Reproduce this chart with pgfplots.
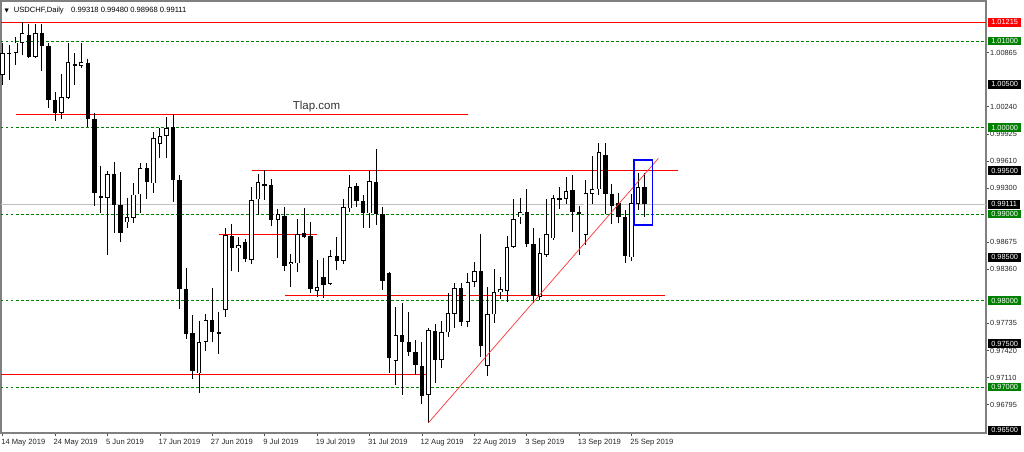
\documentclass[border=0pt]{standalone}
\usepackage{fontspec}
\setmainfont{Liberation Sans}
\newfontfamily\dejavu{DejaVu Sans}
\usepackage{pgfplots}
\usepackage{pgfplotstable}
\pgfplotsset{compat=1.18}

\definecolor{mtgreen}{RGB}{0,128,0}
\definecolor{mtred}{RGB}{255,0,0}
\definecolor{mtblue}{RGB}{0,0,255}
\definecolor{bidgray}{RGB}{192,192,192}

% daily bars, i = bar index from 14 May 2019
\pgfplotstableread{
i O H L C
0 1.00607 1.00973 1.00491 1.00857
1 1.00857 1.00954 1.00549 1.00865
2 1.00857 1.01050 1.00723 1.00981
3 1.00981 1.01216 1.00838 1.01096
4 1.01069 1.01197 1.00800 1.00819
5 1.00819 1.01197 1.00800 1.01096
6 1.01089 1.01197 1.00657 1.00946
7 1.00946 1.00981 1.00221 1.00318
8 1.00318 1.00414 1.00079 1.00164
9 1.00164 1.00618 1.00098 1.00356
10 1.00345 1.00973 1.00329 1.00753
11 1.00730 1.00857 1.00491 1.00711
12 1.00715 1.00973 1.00684 1.00761
13 1.00742 1.00788 1.00010 1.00098
14 1.00098 1.00171 0.99092 0.99239
15 0.99208 0.99559 0.99015 0.99181
16 0.99181 0.99501 0.98526 0.99462
17 0.99462 0.99605 0.98784 0.99104
18 0.99104 0.99489 0.98680 0.98776
19 0.98903 0.99181 0.98834 0.98961
20 0.98957 0.99362 0.98900 0.99227
21 0.99227 0.99586 0.99007 0.99535
22 0.99528 0.99593 0.99169 0.99374
23 0.99354 0.99944 0.99239 0.99875
24 0.99809 0.99990 0.99643 0.99902
25 0.99902 1.00117 0.99643 0.99998
26 1.00010 1.00152 0.99142 0.99393
27 0.99393 0.99451 0.97898 0.98133
28 0.98133 0.98372 0.97551 0.97612
29 0.97620 0.97832 0.97088 0.97188
30 0.97158 0.97767 0.96926 0.97524
31 0.97524 0.97844 0.97420 0.97774
32 0.97774 0.98140 0.97524 0.97639
33 0.97632 0.97871 0.97377 0.97628
34 0.97890 0.98834 0.97805 0.98757
35 0.98745 0.98884 0.98341 0.98611
36 0.98603 0.98730 0.98333 0.98641
37 0.98680 0.98707 0.98449 0.98476
38 0.98468 0.99308 0.98418 0.99162
39 0.99169 0.99462 0.98988 0.99374
40 0.99347 0.99509 0.99162 0.99331
41 0.99335 0.99404 0.98861 0.98930
42 0.98930 0.99058 0.98487 0.98996
43 0.98981 0.99077 0.98345 0.98399
44 0.98418 0.98533 0.98160 0.98441
45 0.98429 0.98938 0.98333 0.98769
46 0.98776 0.99073 0.98718 0.98738
47 0.98745 0.98911 0.98083 0.98129
48 0.98113 0.98468 0.98044 0.98152
49 0.98268 0.98487 0.98025 0.98179
50 0.98187 0.98584 0.98179 0.98514
51 0.98514 0.98738 0.98352 0.98460
52 0.98460 0.99173 0.98422 0.99077
53 0.99065 0.99451 0.99027 0.99316
54 0.99324 0.99354 0.99085 0.99150
55 0.99150 0.99219 0.98834 0.99007
56 0.99007 0.99501 0.98834 0.99381
57 0.99374 0.99747 0.98873 0.98996
58 0.98996 0.99077 0.98121 0.98229
59 0.98321 0.98333 0.97158 0.97331
60 0.97300 0.97928 0.97023 0.97601
61 0.97601 0.97967 0.96907 0.97516
62 0.97516 0.97871 0.97358 0.97408
63 0.97408 0.97543 0.97138 0.97254
64 0.97242 0.97524 0.96803 0.96899
65 0.96907 0.97678 0.96587 0.97659
66 0.97651 0.97724 0.97050 0.97312
67 0.97312 0.97763 0.97215 0.97632
68 0.97632 0.98090 0.97574 0.97851
69 0.97844 0.98206 0.97686 0.98140
70 0.98140 0.98198 0.97705 0.97755
71 0.97755 0.98314 0.97697 0.98217
72 0.98210 0.98441 0.98160 0.98345
73 0.98345 0.98765 0.97350 0.97474
74 0.97246 0.98152 0.97127 0.97840
75 0.97840 0.98360 0.97743 0.98094
76 0.98094 0.98275 0.98013 0.98129
77 0.98113 0.98745 0.97986 0.98622
78 0.98622 0.99173 0.98603 0.98942
79 0.98961 0.99189 0.98884 0.99027
80 0.99027 0.99285 0.98622 0.98653
81 0.98649 0.98842 0.97975 0.98052
82 0.98044 0.98726 0.98005 0.98553
83 0.98526 0.99173 0.98506 0.98765
84 0.98718 0.99219 0.98699 0.99189
85 0.99189 0.99308 0.99054 0.99169
86 0.99173 0.99424 0.99112 0.99266
87 0.99277 0.99451 0.98788 0.99027
88 0.99027 0.99092 0.98526 0.99007
89 0.98757 0.99393 0.98641 0.99246
90 0.99231 0.99670 0.99115 0.99289
91 0.99285 0.99825 0.99219 0.99713
92 0.99682 0.99825 0.98996 0.99227
93 0.99227 0.99347 0.98884 0.99092
94 0.99131 0.99239 0.98892 0.98961
95 0.98961 0.99046 0.98429 0.98514
96 0.98499 0.99227 0.98460 0.99123
97 0.99115 0.99478 0.99046 0.99316
98 0.99318 0.99480 0.98968 0.99111
}\candles

\tikzset{pricelab/.style={anchor=west, xshift=1.7pt, text=white, inner xsep=3.4pt,
  inner ysep=0pt, minimum height=8.8pt, font=\fontsize{7.4}{8}\selectfont}}

\begin{document}
\begin{tikzpicture}[x=1pt,y=1pt]
\fill[white] (0,0) rectangle (1024,451);
\path[use as bounding box] (0,0) rectangle (1024,451);
\begin{axis}[
  at={(1pt,18pt)}, anchor=south west,
  scale only axis, width=985pt, height=432pt,
  xmin=-0.25, xmax=150.1, ymin=0.96468, ymax=1.01462,
  clip=false,
  axis line style={draw=black!50, line width=1.2pt},
  tick align=outside, major tick length=3pt,
  tick style={draw=black!70, line width=0.6pt},
  xtick pos=bottom, ytick pos=right, yticklabel pos=right,
  xtick={0,8,...,96},
  xticklabels={14 May 2019, 24 May 2019, 5 Jun 2019, 17 Jun 2019, 27 Jun 2019, 9 Jul 2019, 19 Jul 2019, 31 Jul 2019, 12 Aug 2019, 22 Aug 2019, 3 Sep 2019, 13 Sep 2019, 25 Sep 2019},
  xticklabel style={font=\fontsize{7.6}{8}\selectfont, text=black!85, anchor=north west, inner sep=0pt, xshift=-1.5pt, yshift=-2.5pt},
  ytick={1.00865,1.00240,0.99925,0.99610,0.99300,0.98675,0.98360,0.97735,0.97420,0.97110,0.96795},
  yticklabels={1.00865,1.00240,0.99925,0.99610,0.99300,0.98675,0.98360,0.97735,0.97420,0.97110,0.96795},
  yticklabel style={font=\fontsize{7.4}{8}\selectfont, text=black!85, anchor=west, inner sep=0pt, xshift=1pt},
]
% levels
\addplot[mtred, line width=0.8pt, forget plot] coordinates {(-0.25,1.01215) (150.1,1.01215)};
\foreach \lv in {1.010,1.000,0.990,0.980,0.970}{
  \edef\temp{\noexpand\addplot[mtgreen, line width=0.8pt, dash pattern=on 2.5pt off 2.5pt, forget plot] coordinates {(-0.25,\lv) (150.1,\lv)};}
  \temp
}
\addplot[bidgray, line width=0.8pt, forget plot] coordinates {(-0.25,0.99111) (150.1,0.99111)};
\addplot[mtred, line width=0.8pt, forget plot] coordinates {(2.03,1.00153) (71.0,1.00153)};
\addplot[mtred, line width=0.8pt, forget plot] coordinates {(38.07,0.99500) (103.1,0.99500)};
\addplot[mtred, line width=0.8pt, forget plot] coordinates {(33.03,0.98761) (47.99,0.98761)};
\addplot[mtred, line width=0.8pt, forget plot] coordinates {(43.1,0.98055) (101.1,0.98055)};
\addplot[mtred, line width=0.8pt, forget plot] coordinates {(-0.25,0.97145) (64.9,0.97145)};

% wicks
\addplot[draw=none, mark=none, forget plot,
  error bars/.cd, y dir=both, y explicit, error mark=none,
  error bar style={draw=black, line width=0.9pt}]
  table[x=i, y expr=(\thisrow{H}+\thisrow{L})/2, y error expr=(\thisrow{H}-\thisrow{L})/2] {\candles};
% bodies
\addplot[draw=none, mark=none, forget plot,
  error bars/.cd, y dir=both, y explicit, error mark=none,
  error bar style={draw=black, line width=4.4pt}]
  table[x=i, y expr=(\thisrow{O}+\thisrow{C})/2, y error expr={max(abs(\thisrow{O}-\thisrow{C})/2,0.00006)}] {\candles};
% hollow inside of rising bars
\addplot[draw=none, mark=none, forget plot,
  error bars/.cd, y dir=both, y explicit, error mark=none,
  error bar style={draw=white, line width=2.6pt}]
  table[x=i, y expr=(\thisrow{O}+\thisrow{C})/2, y error expr={max((\thisrow{C}-\thisrow{O})/2-0.0001,0)}] {\candles};

% trend line and box
\addplot[mtred!80, line width=0.7pt, forget plot] coordinates {(65,0.96587) (100.1,0.99644)};
\addplot[mtblue, line width=1.8pt, forget plot] coordinates {(96.39,0.98873) (99.19,0.98873) (99.19,0.99624) (96.39,0.99624) (96.39,0.98873) (99.19,0.98873)};

\node[font=\fontsize{11.5}{12}\selectfont, text=black!80] at (axis cs:47.9,1.00240) {Tlap.com};
\node[anchor=north west, inner sep=0pt, font=\fontsize{7.6}{8}\selectfont, xshift=3.5pt, yshift=-5.5pt]
  at (axis cs:-0.25,1.01462) {{\dejavu\fontsize{5.5}{7}\selectfont ▼}\hspace{5pt}USDCHF,Daily\hspace{7.5pt}0.99318 0.99480 0.98968 0.99111};

% price labels on the scale
\node[pricelab, fill=mtred] at (axis cs:150.1,1.01215) {1.01215};
\node[pricelab, fill=mtgreen] at (axis cs:150.1,1.01000) {1.01000};
\node[pricelab, fill=black] at (axis cs:150.1,1.00500) {1.00500};
\node[pricelab, fill=mtgreen] at (axis cs:150.1,1.00000) {1.00000};
\node[pricelab, fill=black] at (axis cs:150.1,0.99500) {0.99500};
\node[pricelab, fill=black] at (axis cs:150.1,0.99111) {0.99111};
\node[pricelab, fill=mtgreen] at (axis cs:150.1,0.99000) {0.99000};
\node[pricelab, fill=black] at (axis cs:150.1,0.98500) {0.98500};
\node[pricelab, fill=mtgreen] at (axis cs:150.1,0.98000) {0.98000};
\node[pricelab, fill=black] at (axis cs:150.1,0.97500) {0.97500};
\node[pricelab, fill=mtgreen] at (axis cs:150.1,0.97000) {0.97000};
\node[pricelab, fill=black] at (axis cs:150.1,0.96500) {0.96500};
\end{axis}
\end{tikzpicture}
\end{document}
